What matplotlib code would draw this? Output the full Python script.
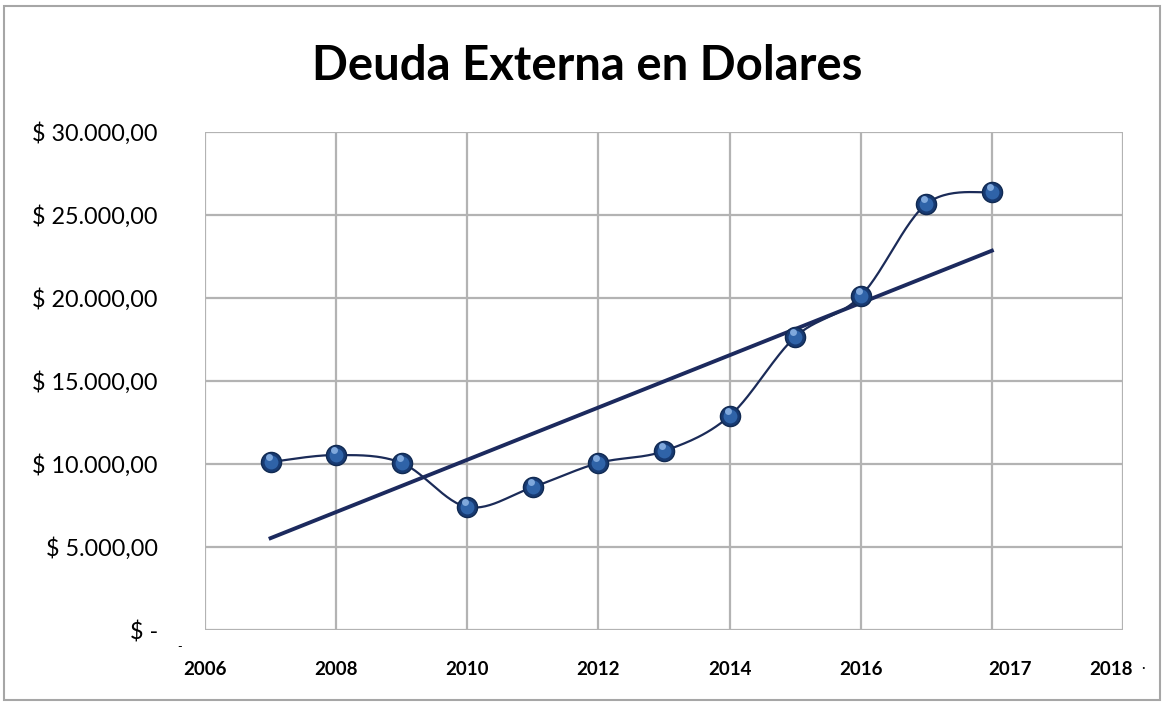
import numpy as np
import matplotlib.pyplot as plt
from matplotlib.patches import Rectangle

# datos (posicion = indice del punto)
posiciones = [1, 2, 3, 4, 5, 6, 7, 8, 9, 10, 11, 12]
deuda = [10120, 10540, 10060, 7410, 8610, 10060, 10780, 12890, 17650, 20120, 25660, 26390]
etiquetas_x = ['2006', '2008', '2010', '2012', '2014', '2016', '2017', '2018']
pos_etiquetas_x = [0, 2, 4, 6, 8, 10, 12.27, 13.82]
ticks_y = [0, 5000, 10000, 15000, 20000, 25000, 30000]
etiquetas_y = ['$ -', '$ 5.000,00', '$ 10.000,00', '$ 15.000,00', '$ 20.000,00', '$ 25.000,00', '$ 30.000,00']

plt.rcParams['font.family'] = ['Lato', 'DejaVu Sans']


def catmull_rom(x, y, n=30):
    x = np.asarray(x, float)
    y = np.asarray(y, float)
    px = np.concatenate([[x[0]], x, [x[-1]]])
    py = np.concatenate([[y[0]], y, [y[-1]]])
    xs, ys = [], []
    t = np.linspace(0, 1, n)
    for i in range(1, len(px) - 2):
        for p, out in ((px, xs), (py, ys)):
            p0, p1, p2, p3 = p[i - 1], p[i], p[i + 1], p[i + 2]
            out.extend(0.5 * ((2 * p1) + (-p0 + p2) * t + (2 * p0 - 5 * p1 + 4 * p2 - p3) * t ** 2
                              + (-p0 + 3 * p1 - 3 * p2 + p3) * t ** 3))
    return np.array(xs), np.array(ys)


fig = plt.figure(figsize=(11.65, 7.02), dpi=100)
fig.patches.append(Rectangle((4 / 1165, 2 / 702), 1156 / 1165, 694 / 702, transform=fig.transFigure,
                             fill=False, edgecolor='#a6a6a6', linewidth=1.5))
ax = fig.add_axes([205 / 1165, 1 - 630 / 702, 918 / 1165, 498 / 702])

ax.set_xlim(0, 14)
ax.set_ylim(0, 30000)
for xv in range(0, 15, 2):
    ax.axvline(xv, color='#b3b3b3', linewidth=1.6, zorder=0)
for yv in ticks_y:
    ax.axhline(yv, color='#b3b3b3', linewidth=1.6, zorder=0)
for s in ax.spines.values():
    s.set_visible(False)

ax.set_yticks(ticks_y)
ax.set_yticklabels(etiquetas_y, fontsize=16.8)
ax.set_xticks(pos_etiquetas_x)
ax.set_xticklabels(etiquetas_x, fontsize=13.5, fontweight='bold')
ax.tick_params(axis='y', length=0, pad=34)
ax.tick_params(axis='x', length=0, pad=22)

# linea suavizada
sx, sy = catmull_rom(posiciones, deuda)
ax.plot(sx, sy, color='#1b2b58', linewidth=1.6, zorder=3)

# linea de tendencia
m, b = np.polyfit(posiciones, deuda, 1)
xt = np.array([posiciones[0], posiciones[-1]])
ax.plot(xt, m * xt + b, color='#1c2a5e', linewidth=2.8, zorder=2)

# marcadores tipo esfera
ax.plot(posiciones, deuda, 'o', markersize=14.5, color='#173a72', markeredgecolor='#112a52',
        markeredgewidth=1, zorder=4)
ax.plot(posiciones, deuda, 'o', markersize=10, color='#2f63a8', markeredgewidth=0, zorder=5)
ax.plot(np.array(posiciones) - 0.03, np.array(deuda) + 300, 'o', markersize=5, color='#7fa8dc',
        markeredgewidth=0, zorder=6)

fig.text(587 / 1165, 1 - 66 / 702, 'Deuda Externa en Dolares', ha='center', va='center',
         fontsize=34, fontweight='bold')
fig.text(180 / 1165, 1 - 647 / 702, '-', ha='center', va='center', fontsize=9)
fig.text(1143 / 1165, 1 - 668 / 702, '·', ha='center', va='center', fontsize=10)

fig.savefig('out.png', dpi=100)
